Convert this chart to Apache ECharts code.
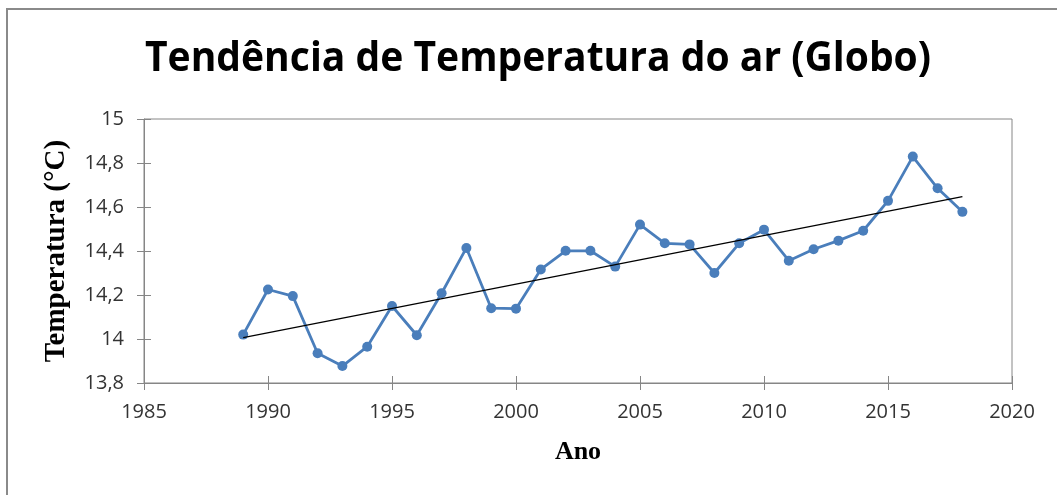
<!DOCTYPE html>
<html>
<head>
<meta charset="utf-8">
<script src="https://cdn.jsdelivr.net/npm/echarts@6/dist/echarts.min.js"></script>
<style>
html,body{margin:0;padding:0;background:#fff;}
#chart{width:1057px;height:495px;}
</style>
</head>
<body>
<div id="chart"></div>
<script>
const years = [1989,1990,1991,1992,1993,1994,1995,1996,1997,1998,1999,2000,2001,2002,2003,2004,2005,2006,2007,2008,2009,2010,2011,2012,2013,2014,2015,2016,2017,2018];
const temps = [14.02,14.225,14.195,13.935,13.877,13.965,14.15,14.017,14.208,14.414,14.14,14.138,14.316,14.401,14.401,14.329,14.52,14.435,14.43,14.30,14.435,14.497,14.356,14.408,14.447,14.492,14.628,14.829,14.685,14.578];
const trendYears = [1989, 2018];
const trendValues = [14.006, 14.647];
const xTicks = {min: 1985, max: 2020, interval: 5};
const yTicks = {min: 13.8, max: 15, interval: 0.2};
const titleText = 'Tendência de Temperatura do ar (Globo)';
const yName = 'Temperatura (°C)';
const xName = 'Ano';

const chart = echarts.init(document.getElementById('chart'));
const fmtY = v => String(+(+v).toFixed(1)).replace('.', ',');
const fmtX = v => String(Math.round(v));
const axisColor = '#868686';
const labelStyle = {color: '#333', fontFamily: 'Open Sans', fontSize: 20};

chart.setOption({
  animation: false,
  backgroundColor: '#fff',
  grid: {left: 144, top: 119, right: 45, bottom: 112, show: true, borderColor: axisColor, borderWidth: 1, backgroundColor: 'transparent'},
  xAxis: [{
    type: 'value', min: xTicks.min, max: xTicks.max, interval: xTicks.interval,
    splitLine: {show: false},
    axisLine: {show: true, lineStyle: {color: axisColor}},
    axisTick: {show: true, length: 7, lineStyle: {color: axisColor}},
    axisLabel: Object.assign({margin: 19, formatter: fmtX}, labelStyle)
  }, {
    type: 'value', position: 'bottom', min: xTicks.min, max: xTicks.max, interval: xTicks.interval,
    splitLine: {show: false}, axisLine: {show: false},
    axisTick: {show: true, inside: true, length: 7, lineStyle: {color: axisColor}},
    axisLabel: {show: false}
  }],
  yAxis: [{
    type: 'value', min: yTicks.min, max: yTicks.max, interval: yTicks.interval,
    splitLine: {show: false},
    axisLine: {show: true, lineStyle: {color: axisColor}},
    axisTick: {show: true, length: 7, lineStyle: {color: axisColor}},
    axisLabel: Object.assign({margin: 20, formatter: fmtY}, labelStyle)
  }, {
    type: 'value', position: 'left', min: yTicks.min, max: yTicks.max, interval: yTicks.interval,
    splitLine: {show: false}, axisLine: {show: false},
    axisTick: {show: true, inside: true, length: 7, lineStyle: {color: axisColor}},
    axisLabel: {show: false}
  }],
  series: [{
    type: 'line',
    data: years.map((y, i) => [y, temps[i]]),
    symbol: 'circle', symbolSize: 10,
    lineStyle: {color: '#4a7ebb', width: 2.8},
    itemStyle: {color: '#4a7ebb'},
    z: 2
  }, {
    type: 'line',
    data: trendYears.map((y, i) => [y, trendValues[i]]),
    symbol: 'none',
    lineStyle: {color: '#000', width: 1.3},
    z: 3
  }],
  graphic: [
    {type: 'rect', shape: {x: 7, y: 9, width: 1070, height: 520}, style: {fill: 'none', stroke: '#8a8a8a', lineWidth: 2}, silent: true},
    {type: 'text', x: 538, y: 59, scaleX: 0.93, style: {text: titleText, fontFamily: '"Open Sans", sans-serif', fontWeight: 'bold', fontSize: 42, fill: '#000', align: 'center', verticalAlign: 'middle'}},
    {type: 'text', x: 57, y: 251, rotation: Math.PI / 2, style: {text: yName, fontFamily: '"Liberation Serif", serif', fontWeight: 'bold', fontSize: 29, fill: '#000', align: 'center', verticalAlign: 'middle'}},
    {type: 'text', x: 578, y: 452, style: {text: xName, fontFamily: '"Liberation Serif", serif', fontWeight: 'bold', fontSize: 26, fill: '#000', align: 'center', verticalAlign: 'middle'}}
  ]
});
</script>
</body>
</html>
